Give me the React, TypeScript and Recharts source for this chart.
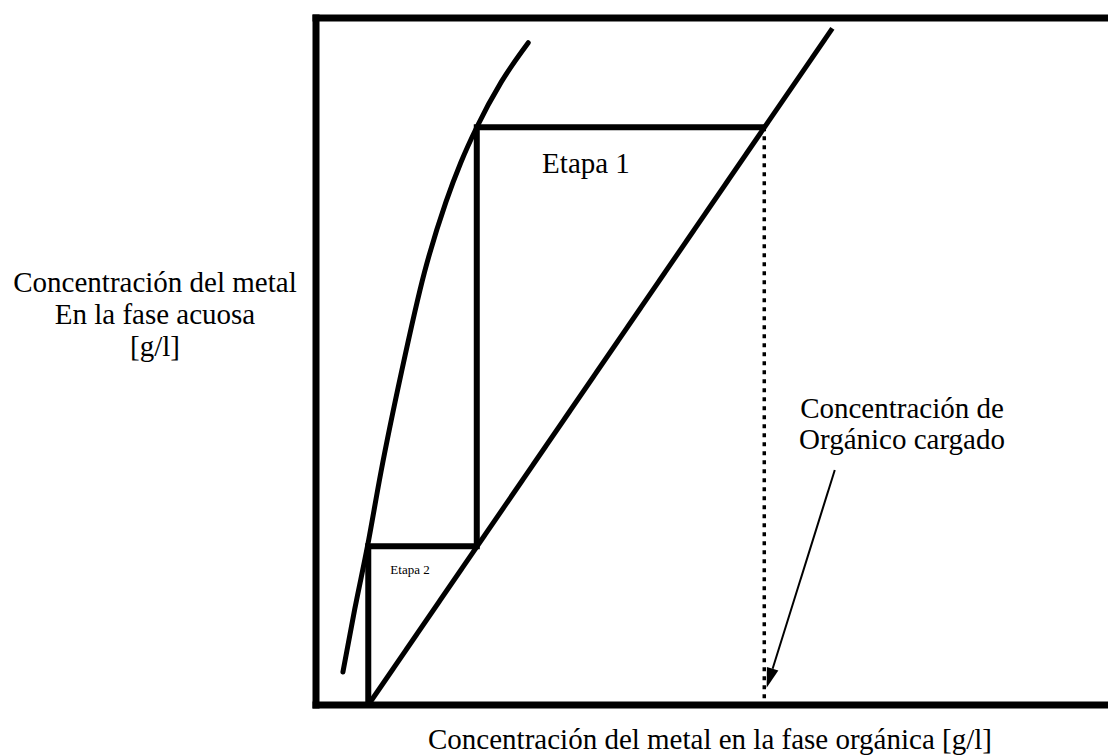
import { LineChart, Line, XAxis, YAxis, ReferenceLine } from 'recharts'

// equilibrium curve (organic vs aqueous concentration)
const curveOrg = [3.4, 4.9, 6.5, 8.2, 10.8, 13.7, 16.4, 18.3, 20.3, 23.4, 26.8]
const curveAq = [4.8, 14.0, 23.1, 33.9, 48.5, 63.0, 73.2, 79.0, 84.1, 90.7, 96.4]

// operating line
const operOrg = [6.6, 65.2]
const operAq = [0, 98.5]

// stage steps (Etapa 1 -> Etapa 2)
const stepOrg = [56.6, 20.3, 20.3, 6.6, 6.6]
const stepAq = [84.1, 84.1, 23.1, 23.1, 0]

// loaded organic concentration
const loadedOrg = [56.6, 56.6]
const loadedAq = [84.1, 0]

// arrow from the annotation to the loaded organic point
const arrowOrg = [65.5, 56.9]
const arrowAq = [34.2, 2.5]

const zip = (xs: number[], ys: number[]) => xs.map((x, i) => ({ x, y: ys[i] }))

const FONT = '"Liberation Serif", "Times New Roman", serif'

function Arrow(props: any) {
  const { x1, y1, x2, y2 } = props
  const ang = Math.atan2(y2 - y1, x2 - x1)
  const len = 20
  const half = 6
  const bx = x2 - len * Math.cos(ang)
  const by = y2 - len * Math.sin(ang)
  const px = -Math.sin(ang) * half
  const py = Math.cos(ang) * half
  return (
    <g>
      <line x1={x1} y1={y1} x2={bx} y2={by} stroke="#000" strokeWidth={2} />
      <polygon points={`${x2},${y2} ${bx + px},${by + py} ${bx - px},${by - py}`} fill="#000" />
    </g>
  )
}

export default function App() {
  return (
    <div style={{ position: 'absolute', left: 0, top: 0, width: 1108, height: 755, background: '#fff', overflow: 'hidden', fontFamily: FONT, color: '#000' }}>
      <LineChart width={1108} height={755} margin={{ top: 18, right: 0, bottom: 50, left: 316 }}>
        <XAxis type="number" dataKey="x" domain={[0, 100]} hide />
        <YAxis type="number" dataKey="y" domain={[0, 100]} hide />

        <ReferenceLine y={100} stroke="#000" strokeWidth={7} strokeLinecap="square" />
        <ReferenceLine y={0} stroke="#000" strokeWidth={7} strokeLinecap="square" />
        <ReferenceLine x={0} stroke="#000" strokeWidth={7} strokeLinecap="square" />

        <Line data={zip(curveOrg, curveAq)} dataKey="y" type="monotone" stroke="#000" strokeWidth={5} dot={false} isAnimationActive={false} strokeLinecap="round" />
        <Line data={zip(operOrg, operAq)} dataKey="y" type="linear" stroke="#000" strokeWidth={5} dot={false} isAnimationActive={false} />
        <Line data={zip(stepOrg, stepAq)} dataKey="y" type="linear" stroke="#000" strokeWidth={6} dot={false} isAnimationActive={false} />
        <Line data={zip(loadedOrg, loadedAq)} dataKey="y" type="linear" stroke="#000" strokeWidth={3.5} strokeDasharray="4 5" dot={false} isAnimationActive={false} />

        <ReferenceLine
          segment={[{ x: arrowOrg[0], y: arrowAq[0] }, { x: arrowOrg[1], y: arrowAq[1] }]}
          shape={(p: any) => <Arrow {...p} />}
        />
      </LineChart>

      <div style={{ position: 'absolute', left: 0, width: 310, top: 266, textAlign: 'center', fontSize: 29, lineHeight: '32px' }}>
        Concentración del metal<br />En la fase acuosa<br />[g/l]
      </div>
      <div style={{ position: 'absolute', left: 752, width: 300, top: 393, textAlign: 'center', fontSize: 29, lineHeight: '31px' }}>
        Concentración de<br />Orgánico cargado
      </div>
      <div style={{ position: 'absolute', left: 310, width: 800, top: 723, textAlign: 'center', fontSize: 29, lineHeight: '32px', whiteSpace: 'nowrap' }}>
        Concentración del metal en la fase orgánica [g/l]
      </div>
      <div style={{ position: 'absolute', left: 486, width: 200, top: 147, textAlign: 'center', fontSize: 29, lineHeight: '32px' }}>
        Etapa 1
      </div>
      <div style={{ position: 'absolute', left: 360, width: 100, top: 562, textAlign: 'center', fontSize: 13, lineHeight: '15px' }}>
        Etapa 2
      </div>
    </div>
  )
}
